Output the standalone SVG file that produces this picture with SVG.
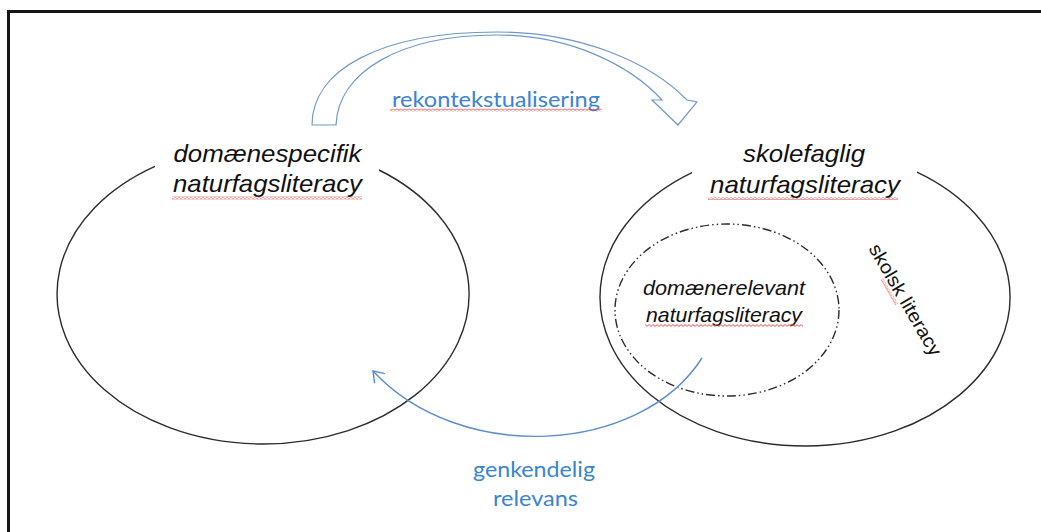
<svg xmlns="http://www.w3.org/2000/svg" width="1041" height="532" viewBox="0 0 1041 532">
  <style>
    .frame { fill: none; stroke: #151515; stroke-width: 3; }
    .set { fill: none; stroke: #2b2b2b; stroke-width: 1.4; }
    .subset { fill: none; stroke: #2b2b2b; stroke-width: 1.4; stroke-dasharray: 9 3 1.5 3 1.5 3; }
    .label { font-family: "Liberation Sans", Arial, sans-serif; font-style: italic; fill: #111; text-anchor: middle; }
    .plain { font-family: "Liberation Sans", Arial, sans-serif; fill: #111; text-anchor: middle; }
    .flow { font-family: Lato, "Open Sans", sans-serif; fill: #3a84d2; text-anchor: middle; }
    .link { fill: none; stroke: #5b8dd0; stroke-width: 1.4; }
    .block { fill: #fff; stroke: #6e97cc; stroke-width: 1.2; stroke-linejoin: miter; }
    .spell { fill: url(#squiggle); }
  </style>
  <defs>
    <!-- wavy spell-check underline -->
    <pattern id="squiggle" patternUnits="userSpaceOnUse" width="4" height="3">
      <path d="M0,1.5 Q1,-0.3 2,1.5 T4,1.5" fill="none" stroke="#ea3a36" stroke-width="0.9"/>
    </pattern>
    <marker id="chevron" markerUnits="userSpaceOnUse" markerWidth="16" markerHeight="16" viewBox="-14 -8 16 16" refX="0" refY="0" orient="auto">
      <path d="M-10,-7 L0,0 L-10,7" fill="none" stroke="#5b8dd0" stroke-width="1.4"/>
    </marker>
  </defs>

  <rect width="1041" height="532" fill="#fff"/>
  <rect class="frame" x="8.5" y="11.5" width="1100" height="600"/>

  <!-- left set -->
  <g id="node-domaenespecifik">
    <path class="set" d="M379,170 A206,150 0 1 1 155,166.3"/>
    <text class="label" font-size="24" x="267.5" y="162" textLength="188" lengthAdjust="spacingAndGlyphs">domænespecifik</text>
    <text class="label" font-size="24" x="267.5" y="192" textLength="189" lengthAdjust="spacingAndGlyphs">naturfagsliteracy</text>
    <rect class="spell" x="172" y="196.5" width="190" height="3"/>
  </g>

  <!-- right set -->
  <g id="node-skolefaglig">
    <path class="set" d="M917,172.2 A205,149 0 1 1 692,172.7"/>
    <text class="label" font-size="24" x="804" y="162" textLength="122" lengthAdjust="spacingAndGlyphs">skolefaglig</text>
    <text class="label" font-size="24" x="805" y="193" textLength="190" lengthAdjust="spacingAndGlyphs">naturfagsliteracy</text>
    <rect class="spell" x="708" y="197" width="190" height="3"/>
  </g>

  <!-- subset inside the right set -->
  <g id="node-domaenerelevant">
    <ellipse class="subset" cx="727" cy="310" rx="112" ry="86"/>
    <text class="label" font-size="21" x="724" y="295" textLength="162" lengthAdjust="spacingAndGlyphs">domænerelevant</text>
    <text class="label" font-size="21" x="724" y="322" textLength="156" lengthAdjust="spacingAndGlyphs">naturfagsliteracy</text>
    <rect class="spell" x="645" y="324" width="158" height="3"/>
  </g>

  <g id="node-skolsk">
    <g transform="translate(905,300) rotate(60)">
      <text class="plain" font-size="19" x="0" y="6" textLength="126" lengthAdjust="spacingAndGlyphs">skolsk literacy</text>
      <rect class="spell" x="-30" y="8" width="30" height="3"/>
    </g>
  </g>

  <!-- connectors -->
  <g id="connectors">
    <g id="edge-rekontekstualisering">
      <path class="block" d="M312,125 C312,70 380,32 497,32 C580,32 650,62 687,100 L697,102 L678,125 L652,100 L662,100 C630,65 570,35 497,35 C400,35 338,72 336,125 Z"/>
      <text class="flow" font-size="22" x="496" y="107" textLength="208" lengthAdjust="spacingAndGlyphs">rekontekstualisering</text>
      <rect class="spell" x="390" y="108.5" width="212" height="3"/>
    </g>
    <g id="edge-genkendelig-relevans">
      <path class="link" d="M702,358 C640,455 460,465 373,371" marker-end="url(#chevron)"/>
      <text class="flow" font-size="22" x="534" y="477" textLength="122" lengthAdjust="spacingAndGlyphs">genkendelig</text>
      <text class="flow" font-size="22" x="535.5" y="506" textLength="85" lengthAdjust="spacingAndGlyphs">relevans</text>
    </g>
  </g>
</svg>
